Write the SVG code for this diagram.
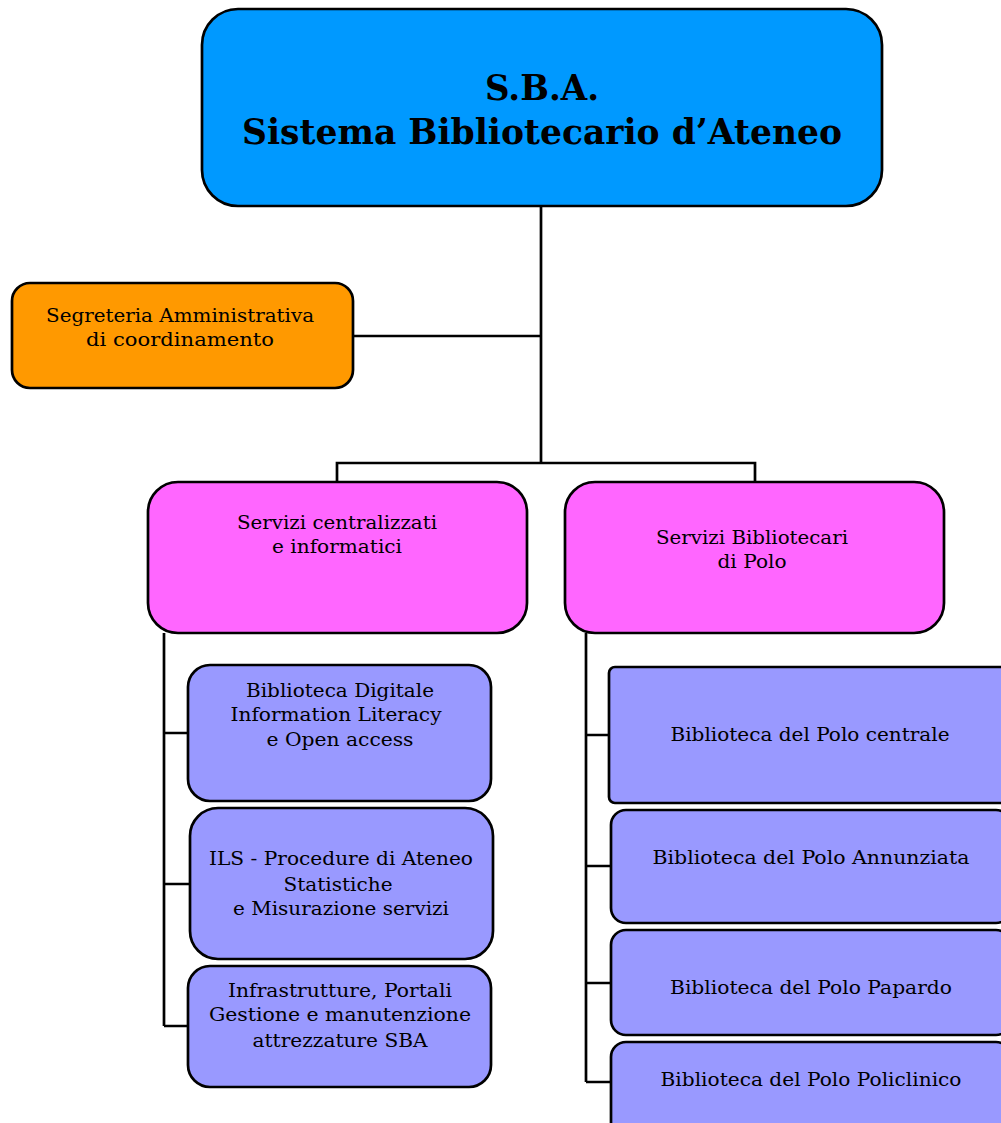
<svg xmlns="http://www.w3.org/2000/svg" width="1001" height="1123" viewBox="0 0 1001 1123">
<style>
.box{stroke:#000;stroke-width:2.7}
.blue{fill:#0099FF}
.orange{fill:#FF9900}
.pink{fill:#FF66FF}
.lav{fill:#9999FF}
.t{font-family:"DejaVu Serif","Liberation Serif",serif;font-size:19px;fill:#000;text-anchor:middle}
.title{font-family:"DejaVu Serif","Liberation Serif",serif;font-size:36px;font-weight:bold;fill:#000;text-anchor:middle}
.c{fill:none;stroke:#000;stroke-width:2.7}
</style>
<rect width="1001" height="1123" fill="#fff"/>
<g id="connectors">
<path class="c" d="M541 206V463M353 336H541M337 483V463H755V483"/>
<path class="c" d="M164 633V1026M164 733H188M164 884H190M164 1026H188"/>
<path class="c" d="M586 633V1082M586 735H609M586 866H611M586 983H611M586 1082H611"/>
</g>
<g id="sba">
<rect class="box blue" x="202" y="9" width="680" height="197" rx="36"/>
<text class="title" x="542" y="100" textLength="114" lengthAdjust="spacingAndGlyphs">S.B.A.</text>
<text class="title" x="542" y="144" textLength="600" lengthAdjust="spacingAndGlyphs">Sistema Bibliotecario d’Ateneo</text>
</g>
<g id="segreteria">
<rect class="box orange" x="12" y="283" width="341" height="105" rx="18"/>
<text class="t" x="180" y="322" textLength="268" lengthAdjust="spacingAndGlyphs">Segreteria Amministrativa</text>
<text class="t" x="180" y="346" textLength="188" lengthAdjust="spacingAndGlyphs">di coordinamento</text>
</g>
<g id="servizi-centralizzati">
<rect class="box pink" x="148" y="482" width="379" height="151" rx="30"/>
<text class="t" x="337" y="529" textLength="200" lengthAdjust="spacingAndGlyphs">Servizi centralizzati</text>
<text class="t" x="337" y="553" textLength="130" lengthAdjust="spacingAndGlyphs">e informatici</text>
</g>
<g id="servizi-bibliotecari">
<rect class="box pink" x="565" y="482" width="379" height="151" rx="30"/>
<text class="t" x="752" y="544" textLength="192" lengthAdjust="spacingAndGlyphs">Servizi Bibliotecari</text>
<text class="t" x="752" y="568" textLength="69" lengthAdjust="spacingAndGlyphs">di Polo</text>
</g>
<g id="biblioteca-digitale">
<rect class="box lav" x="188" y="665" width="303" height="136" rx="22"/>
<text class="t" x="340" y="697" textLength="188" lengthAdjust="spacingAndGlyphs">Biblioteca Digitale</text>
<text class="t" x="336" y="721" textLength="211" lengthAdjust="spacingAndGlyphs">Information Literacy</text>
<text class="t" x="340" y="746" textLength="147" lengthAdjust="spacingAndGlyphs">e Open access</text>
</g>
<g id="ils">
<rect class="box lav" x="190" y="808" width="303" height="151" rx="28"/>
<text class="t" x="341" y="865" textLength="264" lengthAdjust="spacingAndGlyphs">ILS - Procedure di Ateneo</text>
<text class="t" x="338" y="891" textLength="109" lengthAdjust="spacingAndGlyphs">Statistiche</text>
<text class="t" x="341" y="915" textLength="216" lengthAdjust="spacingAndGlyphs">e Misurazione servizi</text>
</g>
<g id="infrastrutture">
<rect class="box lav" x="188" y="966" width="303" height="121" rx="22"/>
<text class="t" x="340" y="997" textLength="224" lengthAdjust="spacingAndGlyphs">Infrastrutture, Portali</text>
<text class="t" x="340" y="1021" textLength="262" lengthAdjust="spacingAndGlyphs">Gestione e manutenzione</text>
<text class="t" x="340" y="1047" textLength="175" lengthAdjust="spacingAndGlyphs">attrezzature SBA</text>
</g>
<g id="polo-centrale">
<rect class="box lav" x="609" y="667" width="400" height="136" rx="6"/>
<text class="t" x="810" y="741" textLength="279" lengthAdjust="spacingAndGlyphs">Biblioteca del Polo centrale</text>
</g>
<g id="polo-annunziata">
<rect class="box lav" x="611" y="810" width="400" height="113" rx="15"/>
<text class="t" x="811" y="864" textLength="317" lengthAdjust="spacingAndGlyphs">Biblioteca del Polo Annunziata</text>
</g>
<g id="polo-papardo">
<rect class="box lav" x="611" y="930" width="400" height="105" rx="15"/>
<text class="t" x="811" y="994" textLength="282" lengthAdjust="spacingAndGlyphs">Biblioteca del Polo Papardo</text>
</g>
<g id="polo-policlinico">
<rect class="box lav" x="611" y="1042" width="400" height="100" rx="15"/>
<text class="t" x="811" y="1086" textLength="301" lengthAdjust="spacingAndGlyphs">Biblioteca del Polo Policlinico</text>
</g>
</svg>
